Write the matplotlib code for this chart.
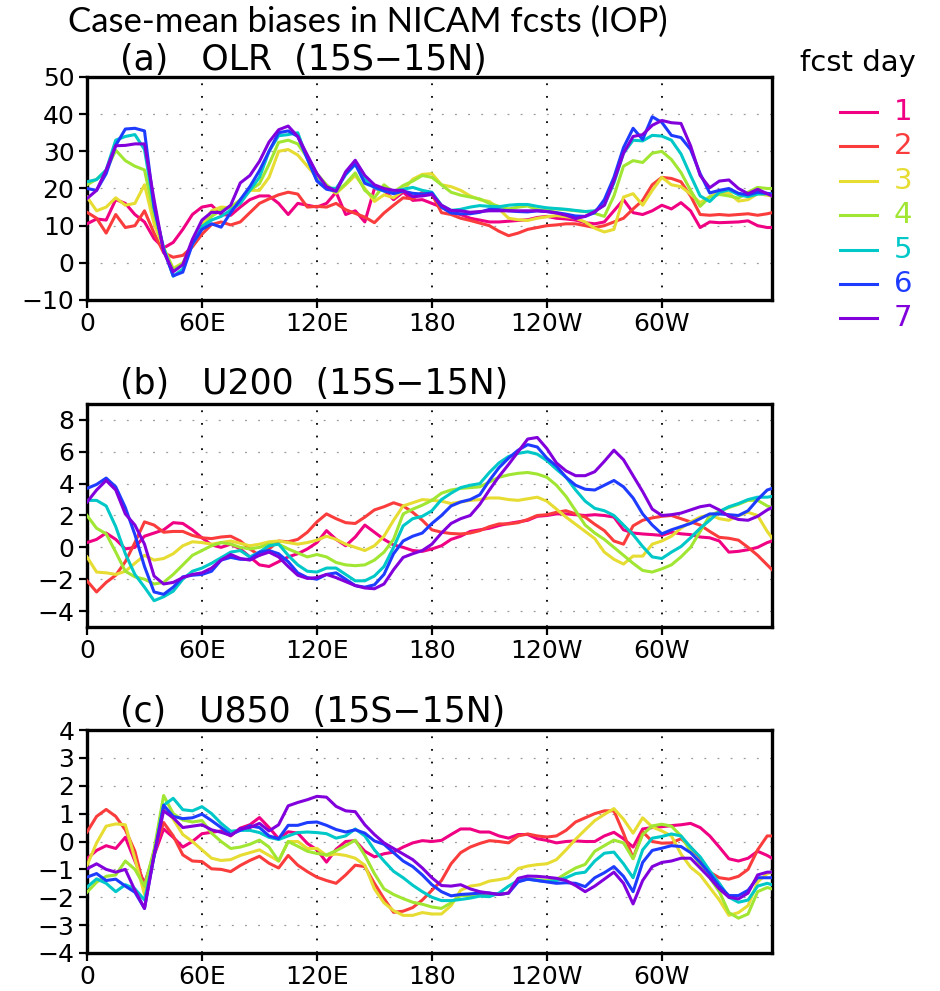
import matplotlib
matplotlib.use("Agg")
import matplotlib.pyplot as plt
import numpy as np

# longitude grid (deg east), 5-degree steps plus the last point at the frame edge
LON = list(range(0, 360, 5)) + [357.5]

# ---- (a) OLR bias, fcst day 1..7 ----
OLR_D1 = [10.5, 11.8, 11.5, 17, 16, 13, 11, 6.5, 4, 5.5, 9, 13, 15, 15.5, 13, 12.8, 15, 17, 18, 18,
          16, 13, 16, 15.5, 15, 16, 19, 13, 14, 11, 20, 19.5, 17, 19, 16.8, 17, 16, 15, 13.5, 13,
          12, 11.5, 11, 11, 11.2, 11.4, 11.6, 12.2, 12.5, 12, 11.8, 11.5, 10.8, 10.5, 11, 14, 17, 13.5, 13, 14,
          15.5, 14.5, 16.2, 14, 9.5, 11, 10.8, 10.9, 11, 11.3, 10, 9.5, 9.5]
OLR_D2 = [13.6, 12, 8, 13, 9.5, 10, 14, 8, 2.7, 1.5, 2, 4.3, 7.7, 10.3, 11, 10.2, 11, 13.5, 16, 17.2,
          18.3, 19, 18.5, 15, 15.2, 15, 16, 14.3, 13.3, 12.3, 10.8, 13.4, 15.5, 17.5, 17.2, 19, 18.5, 13.5, 13, 12,
          11.4, 10.7, 10, 8.5, 7.3, 8, 9, 9.5, 10, 10.2, 10.5, 10.5, 10, 9.5, 10, 11, 12, 14.5, 16.8, 21,
          23, 22.7, 21.8, 18, 13, 12.8, 13, 12.8, 13, 13.2, 12.8, 13.2, 13.5]
OLR_D3 = [17.7, 14, 15, 17.5, 15.5, 16, 21, 10.5, 4, -1.5, 0, 5, 10, 14, 15, 14.8, 17, 19.5, 19.5, 23,
          30, 30.5, 29, 26, 23, 20.5, 18.7, 21, 23.5, 20, 16.5, 18.3, 17.5, 19.5, 22.5, 23.8, 24, 21, 20.5, 19.5,
          18, 17, 16.5, 14.5, 12, 11.6, 11.4, 12, 12.4, 12.7, 12.4, 12, 11, 9.3, 8.3, 9, 17.7, 18.6, 15.5, 19.5,
          23, 21, 20.5, 18.5, 16.2, 17.8, 19, 18.8, 16.6, 17, 18.6, 18.2, 18]
OLR_D4 = [21, 22.5, 24.8, 30.3, 27.5, 26, 25, 13, 4, -1.8, -0.2, 5, 9.3, 12.5, 14.2, 15, 16.8, 19.5, 21.3, 26.5,
          32.4, 33, 32, 28.3, 24, 21, 19, 21.3, 24.2, 19.5, 17.5, 21, 19, 20.8, 22, 23.5, 23, 21, 19, 18.2,
          17.7, 17.2, 16, 15.2, 14.5, 15, 15.3, 14.3, 14.2, 14.5, 14.3, 14, 13.8, 13.3, 12.5, 18, 26, 27.5, 27, 29.5,
          30, 27.8, 24.3, 19.5, 15.2, 17.7, 18.4, 18, 17.4, 19, 20.3, 20, 20]
OLR_D5 = [21.8, 22.4, 25, 33, 34, 34.5, 30.5, 15, 4, -3.6, -1.7, 5.5, 9.8, 11.5, 12.5, 14.2, 16, 19.5, 23, 30,
          34.2, 34.5, 35, 28, 22.2, 20.2, 20, 23.7, 26.5, 22.5, 20.2, 19.3, 19.2, 19.8, 20.3, 19.5, 19, 15.5, 14.1, 14.4,
          15, 15.4, 15.2, 15.1, 15.5, 15.7, 15.7, 15.2, 14.8, 14.6, 14.4, 14.1, 13.8, 14, 15.5, 21.5, 29.5, 33, 32.8, 34.3,
          34.1, 33, 29.3, 23.5, 18, 16.5, 19, 19.6, 18.3, 17.8, 18.5, 18.6, 18.5]
OLR_D6 = [20, 19.5, 24, 31.6, 36, 36.2, 35.5, 15, 3.5, -3.5, -2.5, 5, 9, 10.5, 9.6, 13.5, 17, 20.5, 24.8, 30,
          35, 35.5, 34, 28, 22, 19.8, 19.3, 24, 26.6, 21.4, 20.4, 19.4, 18.6, 19.3, 18.7, 18.5, 18.8, 15, 13.4, 13.2,
          13.2, 13.6, 14.4, 14.3, 14, 13.8, 13.7, 14, 13.8, 13.5, 13.1, 12.6, 12.5, 13.5, 17, 23, 31, 36.2, 33.2, 39.3,
          37.8, 34.3, 33.7, 30.5, 24, 18.8, 19.5, 20, 18.7, 18.3, 19, 18.7, 18.5]
OLR_D7 = [17.3, 19.5, 25, 31.5, 31.6, 32, 32, 17, 3, -2.4, -0.5, 6.3, 11.5, 13.6, 13.5, 15.5, 21.5, 23.5, 27.3, 32.5,
          35.8, 36.8, 34, 29, 24, 20.5, 19.3, 24.5, 27.6, 23.5, 21, 20, 19.5, 19.5, 17.8, 18, 18.4, 15.5, 14.1, 14,
          13.6, 13.8, 14, 14, 14, 14, 14, 14, 13.8, 13.4, 12.8, 11.9, 12.5, 13.8, 15.5, 22, 29.5, 34, 34.5, 37,
          38.3, 37.7, 37.5, 31.5, 23.5, 20.2, 22, 22.3, 20, 18.6, 19.8, 18.6, 18]

# ---- (b) U200 bias ----
U200_D1 = [0.3, 0.5, 0.9, 0.5, -0.1, 0, 0.7, 0.9, 1.1, 1.55, 1.5, 1.1, 0.6, 0.15, 0, 0.2, -0.1, -0.6, -1.1, -1.2,
           -0.9, -0.6, -0.4, -0.1, 0.3, 1.05, 0.5, 0.1, 0.65, 1.4, 0.95, 0.5, 0.15, 0, -0.2, -0.25, -0.1, 0.1, 0.5, 0.7,
           1.0, 1.1, 1.2, 1.37, 1.5, 1.6, 1.7, 1.95, 2.0, 2.1, 2.1, 2.05, 2.0, 2.05, 2.0, 1.9, 1.1, 0.9, 0.84, 0.8,
           0.75, 0.95, 0.85, 0.8, 0.65, 0.6, 0.4, -0.3, -0.25, -0.15, 0, 0.3, 0.4]
U200_D2 = [-2.1, -2.8, -2.2, -1.75, -0.9, 0.3, 1.6, 1.4, 0.95, 1.0, 1.0, 0.75, 0.6, 0.55, 0.65, 0.7, 0.4, -0.1, -0.5, -0.1,
           0.4, 0.35, 0.5, 0.95, 1.6, 2.1, 1.8, 1.55, 1.5, 1.9, 2.35, 2.55, 2.8, 2.6, 2.2, 1.7, 1.1, 0.95, 0.87, 0.84,
           0.9, 1.05, 1.3, 1.47, 1.47, 1.55, 1.75, 2.0, 2.05, 2.2, 2.3, 2.1, 1.9, 1.45, 1.05, 0.4, 0.2, 1.35, 1.7, 1.85,
           1.95, 2.0, 1.8, 1.6, 1.4, 1.0, 0.63, 0.57, 0.45, 0.0, -0.5, -1.1, -1.4]
U200_D3 = [-0.6, -1.55, -1.6, -1.7, -1.5, -1.0, -0.5, -0.8, -0.7, -0.4, 0.1, 0.35, 0.3, 0.2, 0.3, 0.4, 0.25, 0.1, 0.2, 0.35,
           0.4, 0.3, 0.2, 0.3, 0.45, 0.7, 0.5, 0.2, 0, -0.2, 0.1, 0.7, 1.7, 2.6, 2.8, 3.0, 2.95, 2.9, 2.75, 2.85,
           2.95, 3.0, 3.1, 3.1, 3.0, 2.95, 3.05, 3.15, 2.9, 2.4, 1.9, 1.45, 1.0, 0.55, -0.3, -0.75, -1.05, -0.55, -0.55, 0.2,
           0.4, 0.7, 1.2, 1.6, 1.9, 2.05, 1.8, 1.7, 2.0, 2.2, 2.0, 1.0, 0.6]
U200_D4 = [2.0, 1.2, 0.85, -0.3, -1.5, -1.85, -2.0, -2.3, -2.2, -1.7, -1.1, -0.5, -0.2, 0.1, 0.3, 0.2, 0, -0.1, 0, 0.2,
           0.2, -0.1, -0.35, -0.6, -0.45, -0.6, -0.95, -1.1, -1.15, -1.1, -0.8, -0.3, 0.5, 2.1, 2.4, 2.65, 2.95, 3.4, 3.6, 3.7,
           3.75, 3.8, 4.1, 4.4, 4.55, 4.65, 4.7, 4.6, 4.4, 3.9, 3.2, 2.3, 1.4, 0.9, 0.5, 0.0, -0.5, -1.0, -1.45, -1.55,
           -1.35, -1.1, -0.6, 0.0, 1.0, 2.0, 2.25, 2.5, 2.7, 2.95, 2.95, 2.6, 2.5]
U200_D5 = [2.95, 2.95, 2.6, 1.3, -0.4, -1.7, -2.5, -3.35, -3.1, -2.75, -2.0, -1.5, -1.3, -1.0, -0.65, -0.3, -0.2, -0.6, -0.3, 0.1,
           0.2, -0.5, -1.1, -1.5, -1.55, -1.3, -1.3, -1.7, -2.1, -2.1, -1.8, -1.2, 0.0, 1.35, 1.8, 1.95, 2.3, 3.0, 3.4, 3.75,
           3.9, 4.0, 4.7, 5.3, 5.7, 5.9, 6.0, 5.85, 5.45, 4.9, 4.4, 3.6, 2.9, 2.45, 2.3, 2.0, 1.4, 0.8, 0.05, -0.6,
           -0.7, -0.3, 0.05, 0.6, 1.2, 1.7, 2.25, 2.55, 2.75, 3.0, 3.15, 3.15, 3.2]
U200_D6 = [3.7, 3.95, 4.35, 3.8, 2.5, 0.8, -1.2, -2.8, -2.95, -2.5, -1.85, -1.75, -1.7, -1.5, -0.8, -0.63, -0.75, -0.75, -0.3, -0.2,
           -0.4, -0.9, -1.6, -1.9, -2.0, -1.7, -1.6, -2.0, -2.4, -2.5, -2.35, -1.7, -0.4, 0.4, 0.7, 0.9, 1.5, 2.0, 2.6, 2.85,
           3.0, 3.3, 4.2, 5.0, 5.6, 6.1, 6.45, 6.3, 5.6, 5.1, 4.4, 3.9, 3.65, 3.6, 3.9, 4.2, 3.8, 3.1, 2.1, 1.4,
           0.85, 1.1, 1.3, 1.5, 1.8, 2.1, 2.1, 2.05, 2.0, 2.3, 3.0, 3.6, 3.7]
U200_D7 = [2.84, 3.6, 4.2, 3.6, 2.1, 1.4, 0.2, -1.8, -2.3, -2.2, -1.9, -1.7, -1.6, -1.3, -0.8, -0.45, -0.7, -0.8, -0.5, -0.3,
           -0.6, -1.2, -1.75, -1.95, -1.9, -1.7, -1.9, -2.15, -2.4, -2.55, -2.6, -2.3, -1.4, -0.63, -0.4, -0.2, 0.2, 0.9, 1.5, 1.8,
           2.0, 2.7, 3.6, 4.45, 5.2, 6.0, 6.8, 6.9, 6.2, 5.3, 4.8, 4.5, 4.5, 4.75, 5.4, 6.1, 5.5, 4.5, 3.5, 2.4,
           2.0, 2.05, 2.15, 2.35, 2.55, 2.65, 2.35, 1.95, 1.75, 1.7, 1.95, 2.35, 2.5]

# ---- (c) U850 bias ----
U850_D1 = [-0.62, -0.32, -0.15, -0.25, 0.15, -0.7, -1.5, -0.5, 0.45, 0.15, -0.2, 0.0, 0.28, 0.33, 0.38, 0.2, 0.48, 0.6, 0.86, 0.5,
           0.1, 0.35, 0.3, -0.07, -0.3, -0.74, -0.28, 0.0, 0.03, -0.35, -0.55, -0.44, -0.38, -0.2, -0.05, 0.03, 0.0, 0.04, 0.25, 0.45,
           0.45, 0.34, 0.34, 0.2, 0.12, 0.25, 0.25, 0.1, 0.04, -0.05, 0.0, 0.02, 0.0, 0.0, 0.2, 0.33, 0.1, -0.2, 0.45, 0.5,
           0.53, 0.57, 0.6, 0.65, 0.5, 0.2, -0.2, -0.62, -0.7, -0.6, -0.35, -0.5, -0.6]
U850_D2 = [0.34, 0.9, 1.15, 0.9, 0.42, -0.35, -1.7, -0.35, 0.68, 0.2, -0.48, -0.7, -0.72, -0.98, -1.0, -1.08, -0.86, -0.68, -0.53, -0.78,
           -0.95, -0.5, -0.85, -1.08, -1.28, -1.4, -1.5, -1.2, -0.85, -0.9, -1.5, -2.05, -2.54, -2.5, -2.37, -2.1, -1.75, -1.4, -0.8, -0.4,
           -0.2, -0.07, 0.03, 0.0, -0.05, 0.2, 0.27, 0.2, 0.16, 0.2, 0.4, 0.7, 0.85, 1.0, 1.1, 1.1, 0.3, -0.6, 0.35, 0.0,
           -0.06, -0.05, 0.1, -0.2, -0.6, -1.1, -1.3, -1.35, -1.25, -1.0, -0.3, 0.2, 0.2]
U850_D3 = [-0.86, -0.05, 0.55, 0.63, 0.6, -0.62, -1.9, -0.45, 1.25, 0.8, 0.25, 0.0, -0.3, -0.6, -0.68, -0.65, -0.5, -0.4, -0.3, -0.5,
           -0.7, 0.0, 0.0, -0.25, -0.25, -0.5, -0.45, -0.5, -0.6, -0.85, -1.7, -2.2, -2.48, -2.65, -2.65, -2.55, -2.6, -2.6, -2.3, -1.75,
           -1.6, -1.55, -1.42, -1.37, -1.3, -0.97, -0.88, -0.83, -0.8, -0.65, -0.3, 0.08, 0.42, 0.75, 0.97, 1.18, 0.8, 0.3, 0.85, 0.52,
           0.38, 0.2, -0.45, -0.92, -1.2, -1.65, -2.1, -2.65, -2.55, -2.3, -1.45, -1.15, -1.1]
U850_D4 = [-1.82, -1.46, -1.25, -1.2, -0.7, -1.0, -1.6, -0.3, 1.65, 1.0, 0.77, 0.7, 0.75, 0.3, 0.0, -0.25, -0.2, -0.1, 0.05, -0.2,
           -0.7, 0.0, -0.17, -0.35, -0.43, -0.48, -0.33, -0.15, 0.05, -0.5, -1.15, -1.7, -1.9, -2.05, -2.18, -2.25, -2.35, -2.4, -2.2, -1.94,
           -1.94, -1.94, -1.9, -1.9, -1.85, -1.34, -1.34, -1.37, -1.4, -1.36, -1.15, -0.95, -0.82, -0.35, -0.15, 0.05, -0.05, -0.62, 0.25, 0.56,
           0.62, 0.55, 0.2, -0.35, -0.82, -1.3, -1.8, -2.55, -2.75, -2.6, -1.8, -1.65, -1.7]
U850_D5 = [-1.64, -1.34, -1.5, -1.8, -1.55, -1.7, -2.1, -0.55, 1.3, 1.55, 1.14, 1.1, 1.25, 1.0, 0.65, 0.37, 0.4, 0.4, 0.32, 0.15,
           0.07, 0.2, 0.32, 0.34, 0.32, 0.28, 0.12, 0.2, 0.45, 0.2, -0.3, -0.7, -1.07, -1.3, -1.57, -1.8, -2.0, -2.12, -2.12, -2.08,
           -2.03, -1.96, -1.98, -1.85, -1.6, -1.4, -1.35, -1.4, -1.44, -1.4, -1.3, -1.15, -1.1, -0.7, -0.42, -0.38, -0.8, -1.3, -0.3, 0.12,
           0.18, 0.27, 0.2, -0.2, -0.55, -1.05, -1.5, -2.0, -2.18, -2.1, -1.6, -1.5, -1.55]
U850_D6 = [-1.28, -1.15, -1.4, -1.35, -1.6, -1.82, -2.4, -0.5, 1.3, 0.9, 0.82, 0.85, 0.98, 0.75, 0.5, 0.25, 0.4, 0.56, 0.5, 0.2,
           0.1, 0.58, 0.58, 0.68, 0.7, 0.58, 0.43, 0.34, 0.42, 0.3, 0.02, -0.1, -0.4, -0.7, -0.9, -1.2, -1.55, -1.8, -1.95, -1.9,
           -1.88, -1.85, -1.85, -1.9, -1.85, -1.45, -1.35, -1.4, -1.45, -1.5, -1.48, -1.5, -1.62, -1.3, -1.12, -0.9, -1.25, -1.8, -0.75, -0.32,
           -0.24, -0.15, -0.18, -0.4, -0.75, -1.15, -1.6, -1.94, -1.94, -1.75, -1.3, -1.3, -1.3]
U850_D7 = [-0.98, -0.8, -1.0, -1.1, -1.0, -1.75, -2.4, -0.5, 1.1, 0.85, 0.5, 0.55, 0.6, 0.42, 0.33, 0.22, 0.46, 0.5, 0.65, 0.38,
           0.6, 1.28, 1.4, 1.5, 1.62, 1.59, 1.26, 1.1, 1.07, 0.6, 0.25, -0.05, -0.25, -0.45, -0.65, -0.95, -1.3, -1.58, -1.6, -1.55,
           -1.7, -1.8, -1.85, -1.9, -1.85, -1.32, -1.24, -1.25, -1.28, -1.32, -1.4, -1.58, -1.8, -1.6, -1.35, -1.1, -1.5, -2.24, -1.4, -0.9,
           -0.75, -0.7, -0.6, -0.6, -0.95, -1.3, -1.7, -2.0, -2.06, -1.85, -1.2, -1.1, -1.1]

DAYS = ["1", "2", "3", "4", "5", "6", "7"]
# GrADS default rainbow colours
COLORS = ["#F00082", "#FA3C3C", "#E6DC32", "#A0E632", "#00C8C8", "#1E3CFF", "#8200DC"]

XTICKS = [0, 60, 120, 180, 240, 300]
XLABELS = ["0", "60E", "120E", "180", "120W", "60W"]

W, H = 940, 991


def _box(left, top, right, bottom):
    return [left / W, 1 - bottom / H, (right - left) / W, (bottom - top) / H]


def _panel(fig, rect, series, ylim, yticks, title, title_y):
    ax = fig.add_axes(rect)
    for vals, col in zip(series, COLORS):
        ax.plot(LON, vals, color=col, linewidth=2.2, solid_joinstyle="round", zorder=3)

    ax.set_xlim(0, 357.5)
    ax.set_ylim(*ylim)
    ax.set_xticks(XTICKS)
    ax.set_xticklabels(XLABELS)
    ax.set_yticks(yticks)
    ax.set_yticklabels([str(t) if t >= 0 else "\u2212" + str(-t) for t in yticks])
    ax.tick_params(direction="out", length=6, width=1.6, labelsize=18, pad=3)

    for y in yticks:
        ax.axhline(y, color="#9a9a9a", linewidth=0.9, linestyle=(0, (1.5, 9)), zorder=1)
    for x in XTICKS[1:]:
        ax.axvline(x, color="black", linewidth=1.3, linestyle=(0, (1, 6)), zorder=1)

    for spine in ax.spines.values():
        spine.set_linewidth(2.4)

    fig.text(120 / W, 1 - title_y / H, title, fontsize=25, ha="left", va="center")
    return ax


def main():
    fig = plt.figure(figsize=(W / 100, H / 100), dpi=100)
    fig.patch.set_facecolor("white")

    _panel(fig, _box(87, 77, 772, 300),
           [OLR_D1, OLR_D2, OLR_D3, OLR_D4, OLR_D5, OLR_D6, OLR_D7],
           (-10, 50), [-10, 0, 10, 20, 30, 40, 50], "(a)   OLR  (15S\u221215N)", 60)
    _panel(fig, _box(87, 404, 772, 627),
           [U200_D1, U200_D2, U200_D3, U200_D4, U200_D5, U200_D6, U200_D7],
           (-5, 9), [-4, -2, 0, 2, 4, 6, 8], "(b)   U200  (15S\u221215N)", 384)
    _panel(fig, _box(87, 730, 772, 953),
           [U850_D1, U850_D2, U850_D3, U850_D4, U850_D5, U850_D6, U850_D7],
           (-4, 4), [-4, -3, -2, -1, 0, 1, 2, 3, 4], "(c)   U850  (15S\u221215N)", 712)

    fig.text(368 / W, 1 - 22 / H, "Case-mean biases in NICAM fcsts (IOP)",
             fontsize=25, family="Lato", ha="center", va="center")

    # legend for forecast day
    fig.text(858 / W, 1 - 63 / H, "fcst day", fontsize=21, ha="center", va="center")
    for i, (lab, col) in enumerate(zip(DAYS, COLORS)):
        yy = 1 - (112 + i * 34.4) / H
        fig.add_artist(plt.Line2D([840 / W, 877 / W], [yy, yy], color=col, linewidth=2.2,
                                  transform=fig.transFigure))
        fig.text(903 / W, yy, lab, color=col, fontsize=21, ha="center", va="center")

    fig.savefig("out.png", dpi=100)
    plt.close(fig)


if __name__ == "__main__":
    main()
